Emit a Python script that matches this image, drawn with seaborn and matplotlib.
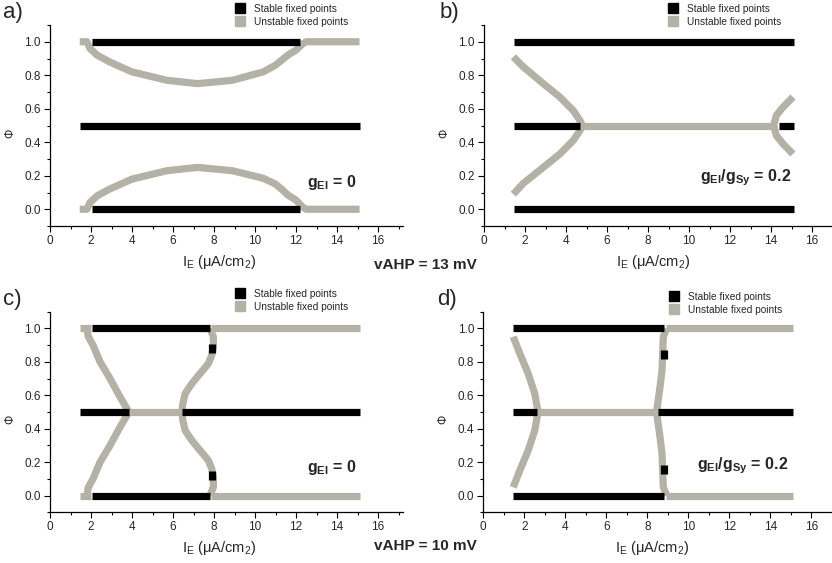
import numpy as np
import pandas as pd
import matplotlib
matplotlib.use("Agg")
import matplotlib.pyplot as plt
from matplotlib.lines import Line2D
from matplotlib.ticker import MultipleLocator
import seaborn as sns

sns.set_theme(style="white")
plt.rcParams['font.family'] = ['Liberation Sans', 'DejaVu Sans']
plt.rcParams['mathtext.fontset'] = 'custom'
plt.rcParams['mathtext.rm'] = 'Liberation Sans'
plt.rcParams['mathtext.it'] = 'Liberation Sans'
plt.rcParams['mathtext.bf'] = 'Liberation Sans:bold'

BLACK = "#000000"
GREY = "#b4b2a7"

# ---------------- data: (x list, y list) per segment ----------------
# Panel a: vAHP = 13 mV, gEI = 0
a_stable = [
    ([2.05, 12.2], [1.0, 1.0]),
    ([1.45, 15.1], [0.5, 0.5]),
    ([2.05, 12.2], [0.0, 0.0]),
]
a_unstable = [
    ([1.45, 1.8, 1.95, 2.3, 2.9, 4.0, 5.7, 7.2, 8.9, 10.4, 11.0, 11.3, 11.6, 12.0, 12.3, 12.5, 15.1],
     [1.0, 1.0, 0.96, 0.92, 0.88, 0.82, 0.77, 0.75, 0.77, 0.82, 0.86, 0.89, 0.92, 0.95, 0.985, 1.0, 1.0]),
    ([1.45, 1.8, 1.95, 2.3, 2.9, 4.0, 5.7, 7.2, 8.9, 10.4, 11.0, 11.3, 11.6, 12.0, 12.3, 12.5, 15.1],
     [0.0, 0.0, 0.04, 0.08, 0.12, 0.18, 0.23, 0.25, 0.23, 0.185, 0.15, 0.12, 0.085, 0.055, 0.015, 0.0, 0.0]),
]
# Panel b: vAHP = 13 mV, gEI/gSy = 0.2
b_stable = [
    ([1.45, 15.1], [1.0, 1.0]),
    ([1.45, 15.1], [0.0, 0.0]),
    ([1.45, 4.7], [0.5, 0.5]),
    ([14.4, 15.1], [0.5, 0.5]),
]
b_unstable = [
    ([1.43, 1.92, 2.89, 3.7, 4.35, 4.68, 4.8, 4.68, 4.35, 3.7, 2.89, 1.92, 1.43],
     [0.91, 0.85, 0.75, 0.67, 0.59, 0.53, 0.5, 0.47, 0.41, 0.33, 0.25, 0.155, 0.09]),
    ([4.8, 14.15], [0.5, 0.5]),
    ([15.07, 14.59, 14.26, 14.13, 14.26, 14.59, 15.07],
     [0.67, 0.61, 0.56, 0.5, 0.44, 0.39, 0.33]),
]
# Panel c: vAHP = 10 mV, gEI = 0
c_stable = [
    ([2.05, 7.8], [1.0, 1.0]),
    ([2.05, 7.8], [0.0, 0.0]),
    ([1.45, 3.85], [0.5, 0.5]),
    ([6.45, 15.1], [0.5, 0.5]),
    ([7.9, 7.9], [0.855, 0.905]),
    ([7.9, 7.9], [0.095, 0.145]),
]
c_unstable = [
    ([1.45, 2.0], [1.0, 1.0]),
    ([1.45, 2.0], [0.0, 0.0]),
    ([1.8, 1.87, 2.1, 2.44, 2.93, 3.37, 3.61, 3.85, 3.61, 3.37, 2.93, 2.44, 2.1, 1.87, 1.8],
     [1.0, 0.95, 0.9, 0.8, 0.7, 0.6, 0.55, 0.5, 0.45, 0.4, 0.3, 0.2, 0.1, 0.05, 0.0]),
    ([3.85, 6.45], [0.5, 0.5]),
    ([7.8, 7.97, 7.97, 7.89, 7.73, 7.32, 6.92, 6.59, 6.48, 6.43, 6.48, 6.59, 6.92, 7.32, 7.73, 7.89, 7.97, 7.97, 7.8],
     [1.0, 0.95, 0.89, 0.84, 0.79, 0.73, 0.67, 0.61, 0.55, 0.5, 0.45, 0.39, 0.33, 0.27, 0.21, 0.16, 0.11, 0.05, 0.0]),
    ([7.85, 15.1], [1.0, 1.0]),
    ([7.85, 15.1], [0.0, 0.0]),
]
# Panel d: vAHP = 10 mV, gEI/gSy = 0.2
d_stable = [
    ([1.45, 8.8], [1.0, 1.0]),
    ([1.45, 8.8], [0.0, 0.0]),
    ([1.45, 2.6], [0.5, 0.5]),
    ([8.5, 15.1], [0.5, 0.5]),
    ([8.8, 8.8], [0.82, 0.87]),
    ([8.8, 8.8], [0.13, 0.18]),
]
d_unstable = [
    ([1.46, 1.78, 2.19, 2.51, 2.67, 2.51, 2.19, 1.78, 1.46],
     [0.95, 0.85, 0.73, 0.61, 0.5, 0.39, 0.27, 0.15, 0.05]),
    ([2.67, 8.45], [0.5, 0.5]),
    ([8.95, 8.78, 8.75, 8.72, 8.62, 8.45, 8.62, 8.72, 8.75, 8.78, 8.95],
     [1.0, 0.95, 0.85, 0.75, 0.65, 0.5, 0.35, 0.25, 0.15, 0.05, 0.0]),
    ([8.9, 15.1], [1.0, 1.0]),
    ([8.9, 15.1], [0.0, 0.0]),
]

panel_letters = ["a)", "b)", "c)", "d)"]
panel_notes = [r"$\mathbf{g_{EI}}$ = 0", r"$\mathbf{g_{EI}/g_{Sy}}$ = 0.2",
               r"$\mathbf{g_{EI}}$ = 0", r"$\mathbf{g_{EI}/g_{Sy}}$ = 0.2"]
row_titles = ["vAHP = 13 mV", "vAHP = 10 mV"]
legend_labels = ["Stable fixed points", "Unstable fixed points"]
x_label = r"I$_\mathrm{E}$ ($\mathrm{\mu}$A/cm$_\mathrm{2}$)"
y_label = "Φ"

panels = [(a_stable, a_unstable), (b_stable, b_unstable),
          (c_stable, c_unstable), (d_stable, d_unstable)]


def to_frame(stable, unstable):
    rows = []
    for kind, segs in (("Unstable", unstable), ("Stable", stable)):
        for i, (xs, ys) in enumerate(segs):
            for j, (x, y) in enumerate(zip(xs, ys)):
                rows.append(dict(kind=kind, seg=f"{kind}{i}", order=j, x=x, y=y))
    return pd.DataFrame(rows)


W, H = 832, 563
fig = plt.figure(figsize=(W / 100, H / 100), dpi=100)

# axes boxes in pixels: left, top, right(xlim end), bottom
boxes = [(50, 25, 402.6, 226), (484, 25, 836.6, 226),
         (50, 311.7, 402.6, 512.3), (483.3, 311.7, 835.9, 512.3)]
letter_pos = [(3, 2), (440, 2), (3, 289), (437, 289)]
legend_pos = [(234, 2), (667, 2), (234, 287), (668, 290)]
note_pos = [(14.95, 0.16), (15.0, 0.19), (14.95, 0.17), (14.9, 0.18)]

for k, ((stable, unstable), (l, t, r, b)) in enumerate(zip(panels, boxes)):
    ax = fig.add_axes([l / W, 1 - b / H, (r - l) / W, (b - t) / H])
    df = to_frame(stable, unstable)
    for kind, col in (("Unstable", GREY), ("Stable", BLACK)):
        sub = df[df.kind == kind]
        sns.lineplot(data=sub, x="x", y="y", units="seg", estimator=None,
                     sort=False, color=col, lw=5.2, ax=ax, legend=False,
                     solid_capstyle="butt")
    ax.set_xlim(0, 17.2)
    ax.set_ylim(-0.1, 1.1)
    ax.xaxis.set_major_locator(MultipleLocator(2))
    ax.xaxis.set_minor_locator(MultipleLocator(1))
    ax.yaxis.set_major_locator(MultipleLocator(0.2))
    ax.yaxis.set_minor_locator(MultipleLocator(0.1))
    ax.set_xticks(np.arange(0, 17, 2))
    ax.set_yticks(np.round(np.arange(0, 1.01, 0.2), 1))
    ax.set_yticklabels([f"{v:.1f}" for v in np.arange(0, 1.01, 0.2)])
    for s in ("top", "right"):
        ax.spines[s].set_visible(False)
    for s in ("left", "bottom"):
        ax.spines[s].set_color("black")
        ax.spines[s].set_linewidth(0.9)
    ax.tick_params(which="major", direction="out", length=4, width=0.8,
                   color="black", labelsize=8.5, pad=2.5, left=True, bottom=True)
    ax.tick_params(which="minor", direction="out", length=2.5, width=0.8,
                   color="black", left=True, bottom=True)
    ax.set_xlabel(x_label, fontsize=10.5)
    ax.set_ylabel(y_label, fontsize=8.5)
    ax.xaxis.set_label_coords(0.48, -0.135)
    ax.yaxis.set_label_coords(-0.095, 0.463)
    ax.grid(False)
    ax.text(note_pos[k][0], note_pos[k][1], panel_notes[k], ha="right", va="center",
            fontsize=11.5, fontweight="bold")
    fig.text(letter_pos[k][0] / W, 1 - letter_pos[k][1] / H, panel_letters[k],
             fontsize=16, ha="left", va="top")
    handles = [Line2D([], [], ls="", marker="s", markersize=6.5, color=BLACK),
               Line2D([], [], ls="", marker="s", markersize=6.5, color=GREY)]
    fig.legend(handles, legend_labels, loc="upper left",
               bbox_to_anchor=(legend_pos[k][0] / W, 1 - legend_pos[k][1] / H),
               frameon=False, fontsize=7.3, handlelength=0.8, handletextpad=1.0,
               labelspacing=0.25, borderpad=0.2, borderaxespad=0)

fig.text(425 / W, 1 - 265 / H, row_titles[0], ha="center", va="center",
         fontsize=11, fontweight="bold")
fig.text(425 / W, 1 - 546 / H, row_titles[1], ha="center", va="center",
         fontsize=11, fontweight="bold")

fig.savefig("out.png", dpi=100)
